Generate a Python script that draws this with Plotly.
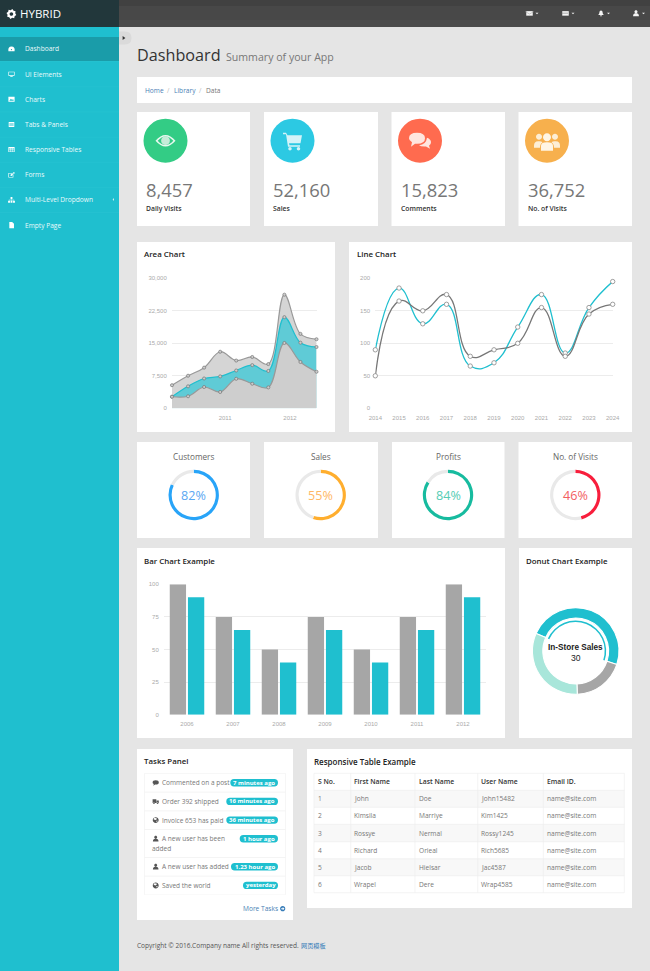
import math
import plotly.graph_objects as go

W, H = 650, 971
TEAL = "#1fbfcf"
FONT = "Open Sans"

# ---------- data ----------
menu_items = ["Dashboard", "UI Elements", "Charts", "Tabs & Panels", "Responsive Tables", "Forms", "Multi-Level Dropdown", "Empty Page"]
menu_icons = ["dash", "monitor", "image", "list", "table", "edit", "sitemap", "file"]
stat_values = ["8,457", "52,160", "15,823", "36,752"]
stat_labels = ["Daily Visits", "Sales", "Comments", "No. of Visits"]
stat_colors = ["#33cc85", "#2cc9e3", "#ff6b4f", "#f7b04d"]

area_bottom = [2666, 2778, 4912, 3767, 6810, 5670, 4820, 15073, 10687, 8432]
area_middle = [2666, 5072, 6881, 7364, 8724, 9963, 8615, 21040, 15147, 14145]
area_top = [5332, 7513, 9382, 13053, 11017, 11844, 10203, 26215, 17175, 15936]
area_index = [0, 1, 2, 3, 4, 5, 6, 7, 8, 9]
area_ytick = [0, 7500, 15000, 22500, 30000]
area_ytext = ["0", "7,500", "15,000", "22,500", "30,000"]
area_xtick = [3.31, 7.35]
area_xtext = ["2011", "2012"]

line_years = [2014, 2015, 2016, 2017, 2018, 2019, 2020, 2021, 2022, 2023, 2024]
line_teal = [90, 185, 130, 160, 65, 70, 125, 175, 85, 155, 195]
line_gray = [50, 165, 150, 175, 80, 90, 100, 155, 80, 145, 160]

gauge_names = ["Customers", "Sales", "Profits", "No. of Visits"]
gauge_values = [82, 55, 84, 46]
gauge_colors = ["#28a4f8", "#ffae2e", "#17bb9f", "#f81e3c"]
gauge_text = ["#5aa7f2", "#ffb765", "#55cdb5", "#f2605f"]

bar_years = ["2006", "2007", "2008", "2009", "2010", "2011", "2012"]
bar_gray = [100, 75, 50, 75, 50, 75, 100]
bar_teal = [90, 65, 40, 65, 40, 65, 90]

donut_labels = ["In-Store Sales", "Download Sales", "Mail-Order Sales"]
donut_values = [30, 12, 20]

task_text = ["Commented on a post", "Order 392 shipped", "Invoice 653 has paid", "A new user has been", "A new user has added", "Saved the world"]
task_badge = ["7 minutes ago", "16 minutes ago", "36 minutes ago", "1 hour ago", "1.23 hour ago", "yesterday"]
task_icons = ["comment", "truck", "globe", "user", "user", "globe"]

table_head = ["S No.", "First Name", "Last Name", "User Name", "Email ID."]
table_no = ["1", "2", "3", "4", "5", "6"]
table_first = ["John", "Kimsila", "Rossye", "Richard", "Jacob", "Wrapel"]
table_last = ["Doe", "Marriye", "Nermal", "Orieal", "Hielsar", "Dere"]
table_user = ["John15482", "Kim1425", "Rossy1245", "Rich5685", "Jac4587", "Wrap4585"]
table_mail = ["name@site.com"] * 6

# ---------- helpers (pixel -> paper) ----------
shapes, notes = [], []
fx = lambda x: x / W
fy = lambda y: 1 - y / H


def rect(x0, y0, x1, y1, color):
    shapes.append(dict(type="rect", xref="paper", yref="paper", x0=fx(x0), x1=fx(x1), y0=fy(y0), y1=fy(y1),
                       fillcolor=color, line=dict(width=0), layer="below"))


def seg(x0, y0, x1, y1, color, w=0.7):
    shapes.append(dict(type="line", xref="paper", yref="paper", x0=fx(x0), x1=fx(x1), y0=fy(y0), y1=fy(y1),
                       line=dict(color=color, width=w), layer="below"))


def circ(cx, cy, r, color):
    shapes.append(dict(type="circle", xref="paper", yref="paper", x0=fx(cx - r), x1=fx(cx + r), y0=fy(cy - r), y1=fy(cy + r),
                       fillcolor=color, line=dict(width=0), layer="below"))


def path(d, color, ox=0, oy=0, s=1):
    out, nums = [], []
    for t in d.split():
        if t.isalpha():
            out.append(t)
        else:
            nums.append(float(t))
            if len(nums) == 2:
                out.append(f"{fx(ox + nums[0] * s):.5f},{fy(oy + nums[1] * s):.5f}")
                nums = []
    shapes.append(dict(type="path", xref="paper", yref="paper", path=" ".join(out), fillcolor=color,
                       line=dict(width=0), layer="below"))


def C(x, y, r):
    k = 0.55 * r
    return (f"M {x-r} {y} C {x-r} {y-k} {x-k} {y-r} {x} {y-r} C {x+k} {y-r} {x+r} {y-k} {x+r} {y} "
            f"C {x+r} {y+k} {x+k} {y+r} {x} {y+r} C {x-k} {y+r} {x-r} {y+k} {x-r} {y} Z ")


def R(x0, y0, x1, y1):
    return f"M {x0} {y0} L {x1} {y0} L {x1} {y1} L {x0} {y1} Z "


def text(x, y, s, size=7, color="#777", anchor="left", family=FONT, weight=None):
    f = dict(family=family, size=size, color=color)
    if weight:
        f["weight"] = weight
    notes.append(dict(xref="paper", yref="paper", x=fx(x), y=fy(y), text=s, showarrow=False, xanchor=anchor,
                      yanchor="middle", font=f, borderpad=0, borderwidth=0))


ICONS = {
    "dash": "M -5 3.5 Q -6 -4 0 -4 Q 6 -4 5 3.5 Z " + C(0, 1, 1.1),
    "monitor": R(-5, -4, 5, 2.5) + R(-4, -3, 4, 1.5) + R(-2, 3, 2, 4),
    "image": R(-5, -4, 5, 4) + "M -3.5 2.5 L -1 -1 L 1 1 L 2.5 -0.5 L 3.7 2.5 Z ",
    "list": R(-4.5, -4, 4.5, 4) + R(-3.5, -2.4, 3.5, -1.6) + R(-3.5, -0.4, 3.5, 0.4) + R(-3.5, 1.6, 3.5, 2.4),
    "table": R(-5, -4, 5, 4) + R(-4, -1.8, -1.5, -0.2) + R(-0.8, -1.8, 0.8, -0.2) + R(1.5, -1.8, 4, -0.2)
             + R(-4, 1, -1.5, 3) + R(-0.8, 1, 0.8, 3) + R(1.5, 1, 4, 3),
    "edit": R(-5, -3, 3, 4.5) + R(-4, -2, 2, 3.5) + "M -1.5 0 L 4 -4.5 L 5.5 -3 L 0 2 L -1.5 2 Z ",
    "sitemap": R(-1.5, -4.5, 1.5, -1.5) + R(-5.5, 1.5, -2.5, 4.5) + R(-1.5, 1.5, 1.5, 4.5) + R(2.5, 1.5, 5.5, 4.5)
               + R(-0.4, -1.5, 0.4, 1.5) + R(-4.4, -0.4, 4.4, 0.4),
    "file": "M -3.5 -5 L 1 -5 L 4 -2 L 4 5 L -3.5 5 Z ",
    "comment": "M -5 -0.5 Q -5 -4 0 -4 Q 5 -4 5 -0.5 Q 5 3 0 3 L -1 3 L -4 5 L -3 2.2 Q -5 1.2 -5 -0.5 Z ",
    "truck": R(-5, -3.5, 1, 2.5) + R(1.5, -1.5, 5, 2.5) + C(-2.8, 3, 1.4) + C(3, 3, 1.4),
    "globe": C(0, 0, 4.8) + "M -2 -3.6 L 2 -2.5 L 1 -0.5 L -1 0 L -3.5 -1.5 Z M 1 1 L 3.5 1 L 1.5 3.5 Z ",
    "user": C(0, -2.5, 2.4) + "M -4.5 4.5 Q -4.5 -0.5 0 0 Q 4.5 -0.5 4.5 4.5 Z ",
    "envelope": R(-5, -3.5, 5, 3.5),
    "bars": R(-5, -3.5, 5, 3.5),
    "bell": "M -4.5 2.5 Q -2.5 1.5 -2.5 -1.5 Q -2.5 -4.5 0 -4.5 Q 2.5 -4.5 2.5 -1.5 Q 2.5 1.5 4.5 2.5 Z " + C(0, 3.6, 1.1),
}


def icon(kind, cx, cy, color="#fff", s=0.65):
    path(ICONS[kind], color, cx, cy, s)


# ---------- chrome ----------
rect(0, 0, W, H, "#e5e5e5")
rect(0, 27, 119, H, TEAL)
rect(119, 0, W, 27, "#484848")
rect(119, 0, W, 6, "#414141")
rect(119, 20, W, 27, "#4c4c4c")
rect(0, 0, 119, 27, "#22373b")
rect(0, 37, 119, 61, "#1a9ca9")
teeth = []
for i in range(16):
    a = math.radians(i * 22.5 + 11.25)
    r = 5 if i % 2 == 0 else 3.9
    teeth.append(f"{'M' if i == 0 else 'L'} {r * math.cos(a):.2f} {r * math.sin(a):.2f}")
path(" ".join(teeth) + " Z " + C(0, 0, 1.8), "#fff", 11.4, 14)
text(20, 14, "HYBRID", 11.5, "#fff")

for i, (lab, ic) in enumerate(zip(menu_items, menu_icons)):
    yy = 49 + i * 25.15
    if i:
        seg(0, yy - 12.5, 119, yy - 12.5, "#2ac4d3", 0.5)
    icon(ic, 11.5, yy, "#fff", 0.62)
    text(25, yy, lab, 6.6, "#eafafb")
path("M 112.6 199.5 L 114 198 L 114 201 Z", "#cdeff2")

path("M 119 31.5 L 125 31.5 Q 131.5 31.5 131.5 38 Q 131.5 44.5 125 44.5 L 119 44.5 Z", "#dadada")
path("M 122.6 36 L 125.4 38 L 122.6 40 Z", "#333")

for ic, cx in zip(["envelope", "bars", "bell", "user"], [529.5, 565.5, 601, 636]):
    icon(ic, cx, 13.4, "#f4f4f4", 0.65)
    path(f"M {cx+6} 12.8 L {cx+9} 12.8 L {cx+7.5} 14.3 Z", "#eee")
seg(525, 11.5, 529.5, 14, "#999", 0.5)
seg(534, 11.5, 529.5, 14, "#999", 0.5)
rect(561.5, 12.8, 568, 13.4, "#777")

# ---------- header ----------
text(137, 54.5, "Dashboard", 16.2, "#333")
text(226, 57, "Summary of your App", 10.6, "#777")
rect(137, 77, 632, 103, "#fff")
text(145, 90, "Home", 6.6, "#4a7fb5")
text(167.5, 90, "/", 6.6, "#bbb")
text(173.5, 90, "Library", 6.6, "#4a7fb5")
text(199, 90, "/", 6.6, "#bbb")
text(205.5, 90, "Data", 6.6, "#777")

# ---------- stat cards ----------
for i, (v, l, c, x0, x1) in enumerate(zip(stat_values, stat_labels, stat_colors, [137, 264, 391.5, 518.5], [250, 378, 505, 632])):
    rect(x0, 112, x1, 226, "#fff")
    circ(x0 + 28.5, 140.7, 22, c)
    text(x0 + 9.3, 190, v, 18.4, "#777")
    text(x0 + 9.3, 208.8, l, 6.8, "#333", weight=600)
cx, cy = 165.5, 140.7
path("M -10 0 Q 0 -11.5 10 0 Q 0 11.5 -10 0 Z M -7.8 0 Q 0 -8.6 7.8 0 Q 0 8.6 -7.8 0 Z", "#e8f8ef", cx, cy)
path(C(0, 0, 4.4), "#c6ecd9", cx, cy)
cx, cy = 293, 140.7
path("M -10 -8 L -7 -8 L -5.5 -5.5 L 9 -5.5 L 7.5 2.5 L -4 2.5 L -3.5 4.5 L 7 4.5 L 7 6 L -5 6 L -7 -6.5 L -10 -6.5 Z", "#d4f3f8", cx, cy)
path(C(-3, 8, 1.7) + C(5.5, 8, 1.7), "#d4f3f8", cx, cy)
cx, cy = 420, 140.7
path("M -11 -2.5 Q -11 -8 -3 -8 Q 5 -8 5 -2.5 Q 5 3 -3 3 L -5 3 L -9 6 L -8 1.5 Q -11 0 -11 -2.5 Z", "#ffe6df", cx, cy)
path("M 7 -3 Q 11 -1.5 11 1.5 Q 11 4 9 5 L 10 8 L 6 5.7 Q 1 6 -1 4.5 Q 6 4 7 -3 Z", "#ffe6df", cx, cy)
cx, cy = 547, 140.7
path(C(-8, -4, 3) + "M -13 5 Q -13 0 -8 0.5 Q -5.5 0.3 -4.5 1.8 Q -7 3 -7 7 L -13 7 Z", "#fdeed5", cx, cy)
path(C(8, -4, 3) + "M 13 5 Q 13 0 8 0.5 Q 5.5 0.3 4.5 1.8 Q 7 3 7 7 L 13 7 Z", "#fdeed5", cx, cy)
path(C(0, -3.5, 4) + "M -6 10 L -6 5 Q -6 1.5 0 1.5 Q 6 1.5 6 5 L 6 10 Z", "#fff5e4", cx, cy)

# ---------- chart cards ----------
rect(137, 242, 335, 432, "#fff")
rect(349, 242, 632, 432, "#fff")
text(144, 254.5, "Area Chart", 7.9, "#222", weight=600)
text(356.5, 254.5, "Line Chart", 7.9, "#222", weight=600)
for x0, x1 in zip([137, 264, 392, 518.5], [250, 378, 504.5, 632]):
    rect(x0, 442, x1, 538, "#fff")
rect(137, 548, 505, 738, "#fff")
rect(519, 548, 632, 738, "#fff")
text(144, 560.5, "Bar Chart Example", 7.9, "#222", weight=600)
text(526, 560.5, "Donut Chart Example", 7.9, "#222", weight=600)

# ---------- tasks ----------
rect(137, 749, 293, 920, "#fff")
rect(307, 749, 632, 908, "#fff")
text(144, 761, "Tasks Panel", 7.9, "#222", weight=600)
text(314, 761, "Responsive Table Example", 8, "#222", weight=600)
rows = [773.3, 792, 810.7, 829.3, 857.3, 876, 894.7]
rect(144.3, 773.3, 285.7, 894.7, "#f0f0f0")
for a, b in zip(rows[:-1], rows[1:]):
    rect(144.8, a + 0.5, 285.2, b - 0.3, "#fff")
badge_left = [230.3, 226.3, 226.3, 239.7, 231, 243]
for i, (t, b, ic, bl) in enumerate(zip(task_text, task_badge, task_icons, badge_left)):
    yc = rows[i] + 9.4
    icon(ic, 155.7, yc, "#555", 0.62)
    text(161.7, yc, t, 6.5, "#777")
    h = 3.7
    xr = 278
    path(f"M {bl+h} {yc-h} L {xr-h} {yc-h} Q {xr} {yc-h} {xr} {yc} Q {xr} {yc+h} {xr-h} {yc+h} L {bl+h} {yc+h} Q {bl} {yc+h} {bl} {yc} Q {bl} {yc-h} {bl+h} {yc-h} Z", TEAL)
    text((bl + xr) / 2, yc, b, 6, "#fff", "center", weight=700)
text(151.6, 848, "added", 6.5, "#777")
text(278, 908.7, "More Tasks", 6.6, "#4a7fb5", "right")
path(C(0, 0, 2.6) + "M -1.5 -0.5 L 0 -0.5 L 0 -1.6 L 1.8 0 L 0 1.6 L 0 0.5 L -1.5 0.5 Z", "#337ab7", 282.7, 908.7)

# ---------- table ----------
tx = [314, 350.7, 415, 477.7, 543.3, 624.3]
ty = [773.3, 790.3, 807.3, 824.3, 841.7, 858.7, 875.7, 892.7]
for i in range(0, 6, 2):
    rect(tx[0], ty[i + 1], tx[-1], ty[i + 2], "#f8f8f8")
for v in tx:
    seg(v, ty[0], v, ty[-1], "#ececec", 0.6)
for v in ty:
    seg(tx[0], v, tx[-1], v, "#ececec", 0.6)
columns = [table_no, table_first, table_last, table_user, table_mail]
for x, head, col in zip(tx, table_head, columns):
    text(x + 3.6, 781.8, head, 6.8, "#333", weight=600)
    for r, v in enumerate(col):
        text(x + 3.6, (ty[r + 1] + ty[r + 2]) / 2, v, 6.6, "#777")

text(137, 945, "Copyright © 2016.Company name All rights reserved.", 6.55, "#555")
text(300.5, 945, "网页模板", 6.2, "#337ab7", family="Noto Sans CJK SC")

# ---------- traces ----------
fig = go.Figure()
TICK = dict(family="Liberation Sans", size=6, color="#aaa")
GRID = "#ececec"
MK = dict(size=3.1, color="#ccc", line=dict(color="#777", width=0.7))
MW = dict(size=4.4, color="#fff", line=dict(color="#888", width=0.8))

SM = 1.05
fig.add_trace(go.Scatter(x=area_index, y=area_top, mode="lines+markers", fill="tozeroy", fillcolor="#d5d5d5",
                         line=dict(color="#999", width=1.2, shape="spline", smoothing=SM), marker=MK, cliponaxis=False))
fig.add_trace(go.Scatter(x=area_index, y=area_middle, mode="lines+markers", fill="tozeroy", fillcolor="#5fcbd6",
                         line=dict(color=TEAL, width=1.2, shape="spline", smoothing=SM), marker=MK, cliponaxis=False))
fig.add_trace(go.Scatter(x=area_index, y=area_bottom, mode="lines+markers", fill="tozeroy", fillcolor="#cecece",
                         line=dict(color="#999", width=1.2, shape="spline", smoothing=SM), marker=MK, cliponaxis=False))

fig.add_trace(go.Scatter(x=line_years, y=line_teal, mode="lines+markers", xaxis="x2", yaxis="y2",
                         line=dict(color=TEAL, width=1.3, shape="spline", smoothing=1.3), marker=MW, cliponaxis=False))
fig.add_trace(go.Scatter(x=line_years, y=line_gray, mode="lines+markers", xaxis="x2", yaxis="y2",
                         line=dict(color="#777", width=1.3, shape="spline", smoothing=1.3), marker=MW, cliponaxis=False))

fig.add_trace(go.Bar(x=bar_years, y=bar_gray, marker=dict(color="#a6a6a6", line=dict(width=0)), xaxis="x3", yaxis="y3"))
fig.add_trace(go.Bar(x=bar_years, y=bar_teal, marker=dict(color=TEAL, line=dict(width=0)), xaxis="x3", yaxis="y3"))


def pie_domain(cx, cy, r):
    return dict(x=[fx(cx - r), fx(cx + r)], y=[fy(cy + r), fy(cy - r)])


for name, val, col, tcol, cx in zip(gauge_names, gauge_values, gauge_colors, gauge_text, [193.7, 320.7, 448, 575.3]):
    fig.add_trace(go.Pie(values=[val, 100 - val], sort=False, direction="clockwise", rotation=0, hole=0.875,
                         marker=dict(colors=[col, "#e9e9e9"], line=dict(width=0)), textinfo="none", hoverinfo="none",
                         domain=pie_domain(cx, 495, 25.2), showlegend=False))
    text(cx, 456, name, 8.2, "#666", "center")
    text(cx, 495.3, f"{val}%", 12.6, tcol, "center")

DCX, DCY = 575.7, 651
fig.add_trace(go.Pie(labels=donut_labels, values=donut_values, sort=False, direction="clockwise", rotation=294, hole=0.76,
                     marker=dict(colors=[TEAL, "#a6a6a6", "#a8e6da"], line=dict(color="#fff", width=1.1)),
                     textinfo="none", hoverinfo="none", domain=pie_domain(DCX, DCY, 43.3), showlegend=False))
fig.add_trace(go.Pie(values=[donut_values[0], donut_values[1] + donut_values[2]], sort=False, direction="clockwise", rotation=294, hole=0.95,
                     marker=dict(colors=[TEAL, "rgba(0,0,0,0)"], line=dict(width=0)),
                     textinfo="none", hoverinfo="none", domain=pie_domain(DCX, DCY, 30.5), showlegend=False))
text(DCX, 647, "<b>In-Store Sales</b>", 8.2, "#222", "center", family="Liberation Sans")
text(DCX, 658, "30", 8.6, "#222", "center", family="Liberation Sans")


def ax(dom, **kw):
    base = dict(domain=dom, showline=False, zeroline=False, fixedrange=True, tickfont=TICK, automargin=False,
                ticks="outside", ticklen=3, tickcolor="rgba(0,0,0,0)", layer="below traces")
    base.update(kw)
    return base


fig.update_layout(
    width=W, height=H, autosize=False, margin=dict(l=0, r=0, t=0, b=0, pad=0), showlegend=False,
    paper_bgcolor="#e5e5e5", plot_bgcolor="rgba(0,0,0,0)", hovermode=False,
    barmode="group", bargap=0.209, bargroupgap=0.104,
    shapes=shapes, annotations=notes,
    xaxis=ax([fx(172), fx(316.5)], range=[0, 9], tickvals=area_xtick, ticktext=area_xtext, showgrid=False, ticklen=3),
    yaxis=ax([fy(408.3), fy(278.3)], range=[0, 30000], tickvals=area_ytick, ticktext=area_ytext, gridcolor=GRID, gridwidth=0.7),
    xaxis2=ax([fx(375.3), fx(612.7)], range=[2014, 2024], tickvals=line_years, showgrid=False, anchor="y2", ticklen=3),
    yaxis2=ax([fy(408.3), fy(278.3)], range=[0, 200], tickvals=[0, 50, 100, 150, 200], gridcolor=GRID, gridwidth=0.7, anchor="x2"),
    xaxis3=ax([fx(164), fx(486)], type="category", showgrid=False, anchor="y3", ticklen=3),
    yaxis3=ax([fy(714.7), fy(584.3)], range=[0, 100], tickvals=[0, 25, 50, 75, 100], gridcolor=GRID, gridwidth=0.7, anchor="x3"),
)

fig.write_html("out.html", config=dict(displayModeBar=False, responsive=False),
               post_script="document.body.style.margin='0';document.body.style.overflow='hidden';")
